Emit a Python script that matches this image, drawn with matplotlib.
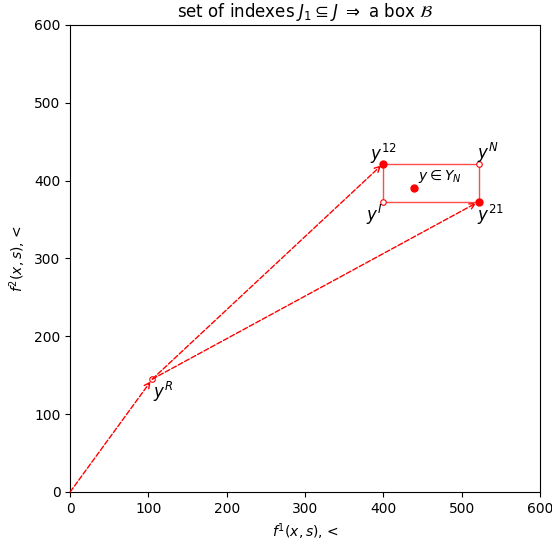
import matplotlib
matplotlib.use("Agg")
import matplotlib.pyplot as plt
from matplotlib.patches import Rectangle

yR = (105, 145)
yI = (400, 373)
yN = (522, 422)
y12 = (400, 422)
y21 = (522, 373)
yY = (439, 391)

fig = plt.figure(figsize=(5.52, 5.43), dpi=100)
ax = fig.add_axes([0.127, 0.094, 0.851, 0.860])
ax.set_xlim(0, 600)
ax.set_ylim(0, 600)

ax.add_patch(Rectangle(yI, yN[0] - yI[0], yN[1] - yI[1], fill=False,
                       edgecolor='red', alpha=0.7, lw=1.0))

arr = dict(arrowstyle='->', color='red', linestyle='--', lw=1.0,
           shrinkA=0, shrinkB=2)
ax.annotate('', xy=yR, xytext=(0, 0), arrowprops=arr)
ax.annotate('', xy=y12, xytext=yR, arrowprops=arr)
ax.annotate('', xy=y21, xytext=yR, arrowprops=arr)

for p in (yR, yI, yN):
    ax.plot(*p, 'o', mfc='white', mec='red', ms=4, mew=0.8)
for p in (y12, y21, yY):
    ax.plot(*p, 'o', color='red', ms=5)

ax.text(yR[0] + 1, yR[1] - 1, r'$y^R$', fontsize=12, ha='left', va='top')
ax.text(y12[0], y12[1] - 3, r'$y^{12}$', fontsize=12, ha='center', va='bottom')
ax.text(yN[0] - 2, yN[1] - 2, r'$y^{N}$', fontsize=12, ha='left', va='bottom')
ax.text(yI[0] - 2, yI[1] - 1, r'$y^{I}$', fontsize=12, ha='right', va='top')
ax.text(y21[0] - 2, y21[1] - 1, r'$y^{21}$', fontsize=12, ha='left', va='top')
ax.text(yY[0] + 5, yY[1] + 3, r'$y \in Y_N$', fontsize=10, ha='left', va='bottom')

ax.set_title(r'set of indexes $J_1 \subseteq J\ \Rightarrow$ a box $\mathcal{B}$')
ax.set_xlabel(r'$f^1(x,s)$, <')
ax.set_ylabel(r'$f^2(x,s)$, <')

fig.savefig('out.png', dpi=100)
